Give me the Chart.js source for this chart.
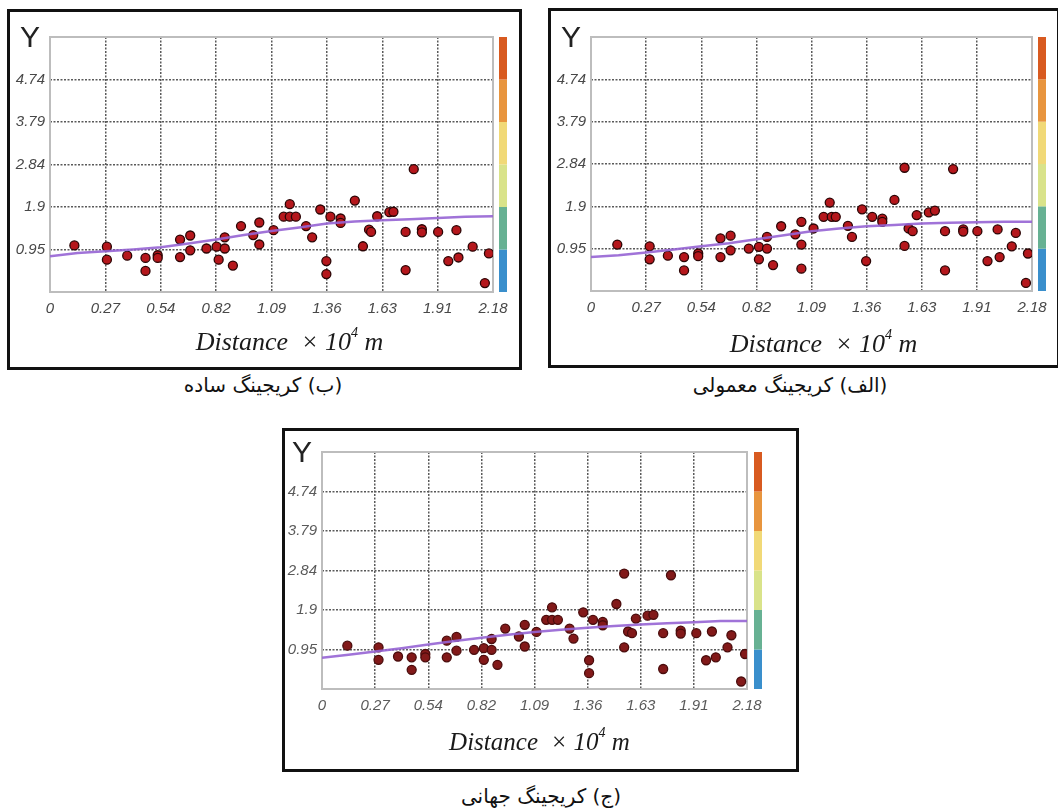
<!DOCTYPE html>
<html>
<head>
<meta charset="utf-8">
<script src="https://cdn.jsdelivr.net/npm/chart.js@4.4.0/dist/chart.umd.min.js"></script>
<style>
  body { margin: 0; background: #fff; width: 1058px; height: 812px; overflow: hidden; position: relative; }
  .box { position: absolute; border: 3px solid #111; box-sizing: border-box; background: #fff; }
  .box canvas { position: absolute; left: 0; top: 0; }
  .cap { position: absolute; text-align: center; font-family: 'DejaVu Sans', sans-serif; font-size: 20px; color: #111; line-height: 24px; }
</style>
</head>
<body>

<div class="box" style="left:7px;top:9px;width:515px;height:361px"><canvas id="chartB" width="509" height="355"></canvas></div>
<div class="box" style="left:548px;top:8px;width:512px;height:360px"><canvas id="chartA" width="506" height="354"></canvas></div>
<div class="box" style="left:282px;top:428px;width:517px;height:344px"><canvas id="chartJ" width="511" height="338"></canvas></div>

<div class="cap" dir="rtl" style="left:113px;width:300px;top:373px">(ب) کریجینگ ساده</div>
<div class="cap" dir="rtl" style="left:640px;width:300px;top:373px">(الف) کریجینگ معمولی</div>
<div class="cap" dir="rtl" style="left:391px;width:300px;top:784px">(ج) کریجینگ جهانی</div>

<script>
// tick values and labels shared by the three semivariograms
const xTickVals = [0, 0.2725, 0.545, 0.8175, 1.09, 1.3625, 1.635, 1.9075, 2.18]
const xTickLabels = ['0', '0.27', '0.54', '0.82', '1.09', '1.36', '1.63', '1.91', '2.18']
const yTickVals = [0, 0.948, 1.896, 2.844, 3.792, 4.74, 5.688]
const yTickLabels = ['', '0.95', '1.9', '2.84', '3.79', '4.74', '']

// colour bar bands, bottom to top
const barColors = ['#3a8fcc', '#67b193', '#d9e38a', '#f1d977', '#e8953e', '#d85a20']

// (ب) simple kriging
const distB = [0.12, 0.28, 0.28, 0.38, 0.47, 0.47, 0.53, 0.53, 0.64, 0.64, 0.69, 0.69, 0.77, 0.82, 0.83, 0.86, 0.86, 0.90, 0.94, 1.00, 1.03, 1.03, 1.10, 1.18, 1.15, 1.18, 1.21, 1.26, 1.29, 1.33, 1.36, 1.36, 1.38, 1.43, 1.43, 1.50, 1.54, 1.57, 1.58, 1.61, 1.67, 1.69, 1.75, 1.75, 1.79, 1.83, 1.83, 1.91, 1.96, 2.00, 2.01, 2.08, 2.14, 2.16]
const gammaB = [1.04, 1.01, 0.72, 0.81, 0.76, 0.47, 0.82, 0.76, 1.17, 0.78, 1.26, 0.93, 0.97, 1.01, 0.72, 0.97, 1.22, 0.59, 1.47, 1.27, 1.55, 1.06, 1.38, 1.96, 1.68, 1.68, 1.68, 1.47, 1.22, 1.84, 0.69, 0.40, 1.68, 1.64, 1.54, 2.04, 1.02, 1.39, 1.34, 1.69, 1.78, 1.79, 1.34, 0.49, 2.74, 1.40, 1.33, 1.34, 0.69, 1.38, 0.77, 1.01, 0.20, 0.86]

// (الف) ordinary kriging
const distA = [0.13, 0.29, 0.29, 0.38, 0.46, 0.46, 0.53, 0.53, 0.64, 0.64, 0.69, 0.69, 0.78, 0.83, 0.83, 0.87, 0.87, 0.90, 0.94, 1.01, 1.04, 1.04, 1.04, 1.10, 1.18, 1.15, 1.19, 1.21, 1.27, 1.29, 1.34, 1.36, 1.39, 1.44, 1.44, 1.50, 1.55, 1.55, 1.57, 1.59, 1.61, 1.67, 1.70, 1.75, 1.75, 1.79, 1.84, 1.84, 1.91, 1.96, 2.01, 2.02, 2.08, 2.10, 2.15, 2.16]
const gammaA = [1.04, 1.00, 0.71, 0.79, 0.76, 0.46, 0.84, 0.78, 1.18, 0.76, 1.24, 0.91, 0.95, 0.99, 0.71, 0.95, 1.21, 0.58, 1.45, 1.27, 1.55, 1.04, 0.50, 1.40, 1.98, 1.66, 1.66, 1.66, 1.46, 1.21, 1.83, 0.67, 1.66, 1.62, 1.55, 2.04, 2.76, 1.01, 1.40, 1.34, 1.70, 1.76, 1.80, 1.34, 0.46, 2.73, 1.38, 1.33, 1.34, 0.67, 1.38, 0.76, 1.00, 1.30, 0.18, 0.84]

// (ج) universal kriging
const distJ = [0.13, 0.29, 0.29, 0.39, 0.46, 0.46, 0.53, 0.53, 0.64, 0.64, 0.69, 0.69, 0.78, 0.83, 0.83, 0.87, 0.87, 0.90, 0.94, 1.01, 1.04, 1.04, 1.10, 1.18, 1.15, 1.18, 1.21, 1.27, 1.29, 1.34, 1.37, 1.37, 1.39, 1.44, 1.44, 1.51, 1.55, 1.55, 1.57, 1.59, 1.61, 1.67, 1.70, 1.75, 1.75, 1.79, 1.84, 1.84, 1.92, 1.97, 2.00, 2.02, 2.08, 2.10, 2.15, 2.17]
const gammaJ = [1.04, 1.00, 0.70, 0.78, 0.76, 0.46, 0.84, 0.76, 1.16, 0.76, 1.25, 0.92, 0.94, 0.98, 0.70, 0.94, 1.20, 0.58, 1.45, 1.26, 1.54, 1.02, 1.37, 1.96, 1.66, 1.66, 1.66, 1.45, 1.21, 1.84, 0.69, 0.38, 1.66, 1.61, 1.53, 2.04, 2.77, 1.00, 1.38, 1.34, 1.69, 1.76, 1.78, 1.34, 0.48, 2.73, 1.40, 1.33, 1.34, 0.69, 1.38, 0.76, 1.00, 1.29, 0.18, 0.84]

// fitted model curves
const lagX = [0, 0.136, 0.273, 0.409, 0.545, 0.681, 0.818, 0.954, 1.09, 1.226, 1.363, 1.499, 1.635, 1.771, 1.908, 2.044, 2.18]
const fitB = [0.80, 0.87, 0.91, 0.95, 1.00, 1.08, 1.17, 1.27, 1.36, 1.44, 1.53, 1.57, 1.60, 1.62, 1.65, 1.68, 1.69]
const fitA = [0.76, 0.80, 0.86, 0.93, 1.00, 1.07, 1.16, 1.25, 1.34, 1.40, 1.45, 1.48, 1.51, 1.53, 1.54, 1.55, 1.55]
const fitJ = [0.75, 0.82, 0.90, 0.98, 1.07, 1.15, 1.23, 1.30, 1.37, 1.42, 1.47, 1.51, 1.55, 1.58, 1.60, 1.63, 1.63]

// frame, colour bar, gamma sign and axis title
const panelDeco = {
  id: 'panelDeco',
  beforeDatasetsDraw(chart, args, opts) {
    const ctx = chart.ctx
    const a = chart.chartArea
    const y = chart.scales.y
    ctx.save()
    ctx.strokeStyle = '#bdbdbd'
    ctx.lineWidth = 2
    ctx.strokeRect(a.left, a.top, a.right - a.left, a.bottom - a.top)

    const bx = a.right + opts.barGap
    for (let i = 0; i < barColors.length; i++) {
      const y0 = y.getPixelForValue(yTickVals[i])
      const y1 = y.getPixelForValue(yTickVals[i + 1])
      ctx.fillStyle = barColors[i]
      ctx.fillRect(bx, y1, opts.barWidth, y0 - y1)
    }

    ctx.fillStyle = '#222'
    ctx.font = '30px "Liberation Sans"'
    ctx.textAlign = 'center'
    ctx.textBaseline = 'middle'
    ctx.fillText('Y', a.left - 20, a.top + 2)

    // Distance × 10^4 m
    const big = 'italic ' + opts.titleSize + 'px "Liberation Serif"'
    const small = 'italic ' + Math.round(opts.titleSize * 0.55) + 'px "Liberation Serif"'
    const parts = [['Distance  \u00d7 10', big, 0], ['4', small, -opts.titleSize * 0.38], [' m', big, 0]]
    let total = 0
    parts.forEach(function (p) { ctx.font = p[1]; total += ctx.measureText(p[0]).width })
    let tx = (a.left + a.right) / 2 + opts.titleDx - total / 2
    const ty = a.bottom + opts.titleDy
    ctx.textAlign = 'left'
    ctx.fillStyle = '#1a1a1a'
    parts.forEach(function (p) {
      ctx.font = p[1]
      ctx.fillText(p[0], tx, ty + p[2])
      tx += ctx.measureText(p[0]).width
    })
    ctx.restore()
  }
}

function makePanel(id, dist, gamma, fit, look) {
  const pts = dist.map(function (d, i) { return { x: d, y: gamma[i] } })
  const curve = lagX.map(function (d, i) { return { x: d, y: fit[i] } })
  const tickFont = { family: 'Liberation Sans', size: 15, style: 'italic' }

  new Chart(document.getElementById(id), {
    type: 'scatter',
    data: {
      datasets: [{
        type: 'line',
        data: curve,
        borderColor: 'rgba(150, 100, 212, 0.9)',
        borderWidth: 2.5,
        pointRadius: 0,
        fill: false,
        order: 0
      }, {
        data: pts,
        pointRadius: 4.5,
        backgroundColor: look.fill,
        borderColor: look.edge,
        borderWidth: 1.3,
        order: 1
      }]
    },
    options: {
      responsive: false,
      animation: false,
      devicePixelRatio: 1,
      events: [],
      layout: { padding: { left: 0, top: look.top, right: look.right, bottom: 0 } },
      plugins: {
        legend: { display: false },
        tooltip: { enabled: false },
        panelDeco: look.deco
      },
      scales: {
        x: {
          type: 'linear',
          min: 0,
          max: 2.18,
          afterBuildTicks: function (s) { s.ticks = xTickVals.map(function (v) { return { value: v } }) },
          afterFit: function (s) { s.height = look.xHeight },
          grid: { color: '#5a5a5a', lineWidth: 1.5, drawTicks: false },
          border: { display: false, dash: [2, 1.5] },
          ticks: {
            autoSkip: false,
            maxRotation: 0,
            padding: 8,
            color: look.tickColor,
            font: tickFont,
            callback: function (v, i) { return xTickLabels[i] }
          }
        },
        y: {
          min: 0,
          max: 5.688,
          afterBuildTicks: function (s) { s.ticks = yTickVals.map(function (v) { return { value: v } }) },
          afterFit: function (s) { s.width = look.yWidth },
          grid: { color: '#5a5a5a', lineWidth: 1.5, drawTicks: false },
          border: { display: false, dash: [2, 1.5] },
          ticks: {
            padding: 5,
            color: look.tickColor,
            font: tickFont,
            callback: function (v, i) { return yTickLabels[i] }
          }
        }
      }
    },
    plugins: [panelDeco]
  })
}

makePanel('chartB', distB, gammaB, fitB, {
  fill: '#b5171c', edge: '#2b0505', tickColor: '#484848',
  top: 25, right: 26, xHeight: 75, yWidth: 40,
  deco: { barGap: 6, barWidth: 8, titleSize: 26, titleDx: 18, titleDy: 51 }
})

makePanel('chartA', distA, gammaA, fitA, {
  fill: '#b5171c', edge: '#2b0505', tickColor: '#484848',
  top: 26, right: 25, xHeight: 74, yWidth: 40,
  deco: { barGap: 6, barWidth: 8, titleSize: 26, titleDx: 12, titleDy: 54 }
})

makePanel('chartJ', distJ, gammaJ, fitJ, {
  fill: '#821919', edge: '#4a0c0c', tickColor: '#5a5a5a',
  top: 21, right: 49, xHeight: 80, yWidth: 37,
  deco: { barGap: 7, barWidth: 8, titleSize: 25, titleDx: 5, titleDy: 54 }
})
</script>
</body>
</html>
